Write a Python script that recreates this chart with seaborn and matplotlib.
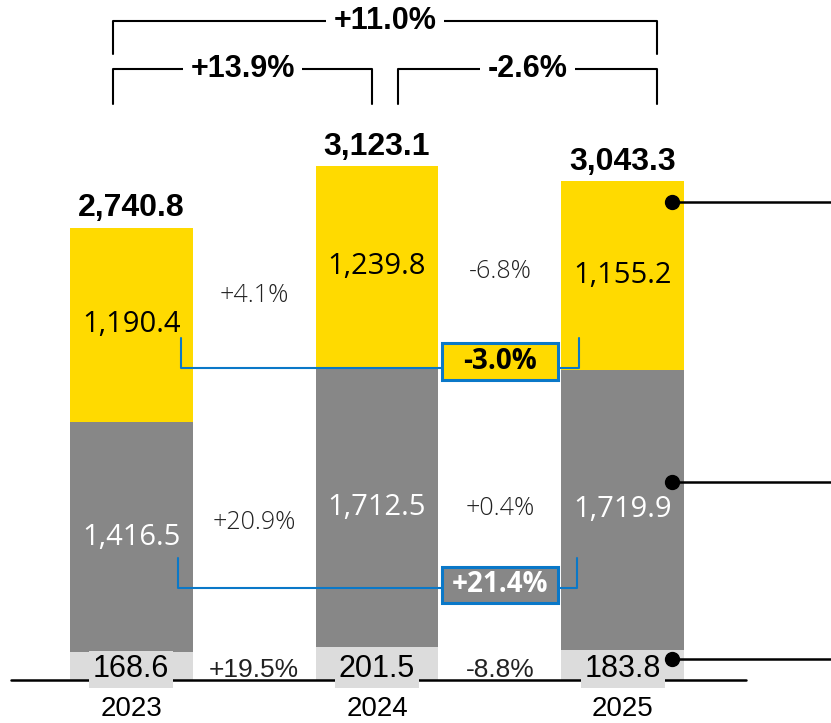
import numpy as np
import pandas as pd
import matplotlib
matplotlib.use("Agg")
import matplotlib.pyplot as plt
import seaborn as sns
from matplotlib import font_manager
from matplotlib.patches import Rectangle

# values
years = ["2023", "2024", "2025"]
bottom_vals = [168.6, 201.5, 183.8]
middle_vals = [1416.5, 1712.5, 1719.9]
top_vals = [1190.4, 1239.8, 1155.2]
totals = [2740.8, 3123.1, 3043.3]

YELLOW = "#FFDA00"
GRAY = "#878787"
LIGHT = "#DCDCDC"
BLUE = "#0A78C8"


def pick_font(candidates):
    installed = {f.name for f in font_manager.fontManager.ttflist}
    for name in candidates:
        if name in installed:
            return name
    return "DejaVu Sans"


def pct(a, b):
    return f"{(b / a - 1) * 100:+.1f}%"


def main():
    sns.set_theme(style="white")
    narrow = pick_font(["Liberation Sans Narrow", "Liberation Sans", "DejaVu Sans"])
    plain = pick_font(["Open Sans", "Noto Sans", "DejaVu Sans"])
    plt.rcParams["font.family"] = [plain, "DejaVu Sans"]

    df = pd.DataFrame({
        "year": years,
        "bottom": bottom_vals,
        "middle": middle_vals,
        "top": top_vals,
    })
    df["mid_cum"] = df["bottom"] + df["middle"]
    df["top_cum"] = df["mid_cum"] + df["top"]

    fig = plt.figure(figsize=(8.31, 7.23), dpi=100)
    ax = fig.add_axes([0, 0, 1, 1])

    # stacked bars drawn as cumulative layers, tallest first
    for col, color in [("top_cum", YELLOW), ("mid_cum", GRAY), ("bottom", LIGHT)]:
        sns.barplot(data=df, x="year", y=col, color=color, saturation=1,
                    width=0.5, linewidth=0, errorbar=None, ax=ax)

    ax.set_xlim(-0.533, 2.846)
    ax.set_ylim(-264, 4172)
    ax.axis("off")

    x = np.arange(len(years))
    top_mid = (df["mid_cum"] + df["top_cum"]) / 2
    gray_mid = (df["bottom"] + df["mid_cum"]) / 2

    # baseline
    ax.plot([-0.49, 2.5], [0, 0], color="black", lw=1.8, zorder=3)

    for i in x:
        ax.annotate(f"{totals[i]:,.1f}", (i, df["top_cum"][i]), xytext=(0, 8),
                    textcoords="offset points", ha="center", va="baseline",
                    fontsize=23, fontweight="bold", family=narrow, color="black")
        ax.text(i, top_mid[i], f"{top_vals[i]:,.1f}", ha="center", va="center",
                fontsize=21, color="black")
        ax.text(i, gray_mid[i], f"{middle_vals[i]:,.1f}", ha="center", va="center",
                fontsize=21, color="white")
        ax.annotate(f"{bottom_vals[i]:,.1f}", (i, 0), xytext=(0, 2),
                    textcoords="offset points", ha="center", va="baseline",
                    fontsize=22, family=narrow, color="black", zorder=4,
                    bbox=dict(boxstyle="square,pad=0.12", fc=LIGHT, ec="none"))
        ax.text(i, -221, years[i], ha="center", va="baseline",
                fontsize=20, family=narrow, color="black")

    # year-on-year changes between bars
    for i in range(len(years) - 1):
        xm = i + 0.5
        ax.text(xm, (top_mid[i] + top_mid[i + 1]) / 2, pct(top_vals[i], top_vals[i + 1]),
                ha="center", va="center", fontsize=18, fontweight="light", color="#222222")
        ax.text(xm, (gray_mid[i] + gray_mid[i + 1]) / 2, pct(middle_vals[i], middle_vals[i + 1]),
                ha="center", va="center", fontsize=18, fontweight="light", color="#222222")
        ax.annotate(pct(bottom_vals[i], bottom_vals[i + 1]), (xm, 0), xytext=(0, 2),
                    textcoords="offset points", ha="center", va="baseline",
                    fontsize=19, family=narrow, color="#222222")

    # total-change brackets on top
    brackets = [
        (-0.073, 2.138, 4043, 3840, pct(totals[0], totals[2])),
        (-0.073, 0.98, 3748, 3534, pct(totals[0], totals[1])),
        (1.085, 2.138, 3748, 3534, pct(totals[1], totals[2])),
    ]
    for x0, x1, yh, yl, label in brackets:
        ax.plot([x0, x0, x1, x1], [yl, yh, yh, yl], color="black", lw=1.5)
        ax.text((x0 + x1) / 2, yh, label, ha="center", va="center", fontsize=22,
                fontweight="bold", family=narrow, color="black",
                bbox=dict(boxstyle="square,pad=0.25", fc="white", ec="none"))

    # 2023 -> 2025 segment brackets with a fixed-size label box
    seg_brackets = [
        (0.203, 1.821, 1914, 2098, pct(top_vals[0], top_vals[2]), YELLOW, "black", 1954),
        (0.19, 1.813, 564, 748, pct(middle_vals[0], middle_vals[2]), GRAY, "white", 583),
    ]
    box_w, box_h = 0.468, 225
    for x0, x1, yh, yl, label, fc, tc, ylab in seg_brackets:
        ax.plot([x0, x0, x1, x1], [yl, yh, yh, yl], color=BLUE, lw=1.5, zorder=3)
        ax.add_patch(Rectangle((1.5 - box_w / 2, ylab - box_h / 2), box_w, box_h,
                               fc=fc, ec=BLUE, lw=2.2, zorder=4))
        ax.text(1.5, ylab, label, ha="center", va="center", fontsize=20,
                fontweight="bold", color=tc, zorder=5)

    # callout dots on the 2025 bar
    dot_y = [
        df["top_cum"][2] - 0.11 * top_vals[2],
        df["bottom"][2] + 0.6 * middle_vals[2],
        0.7 * bottom_vals[2],
    ]
    for y in dot_y:
        ax.plot([2.2, 2.846], [y, y], color="black", lw=1.8, zorder=3)
        ax.plot(2.2, y, "o", color="black", markersize=10, zorder=4)

    fig.savefig("out.png", dpi=100)
    plt.close(fig)


if __name__ == "__main__":
    main()
